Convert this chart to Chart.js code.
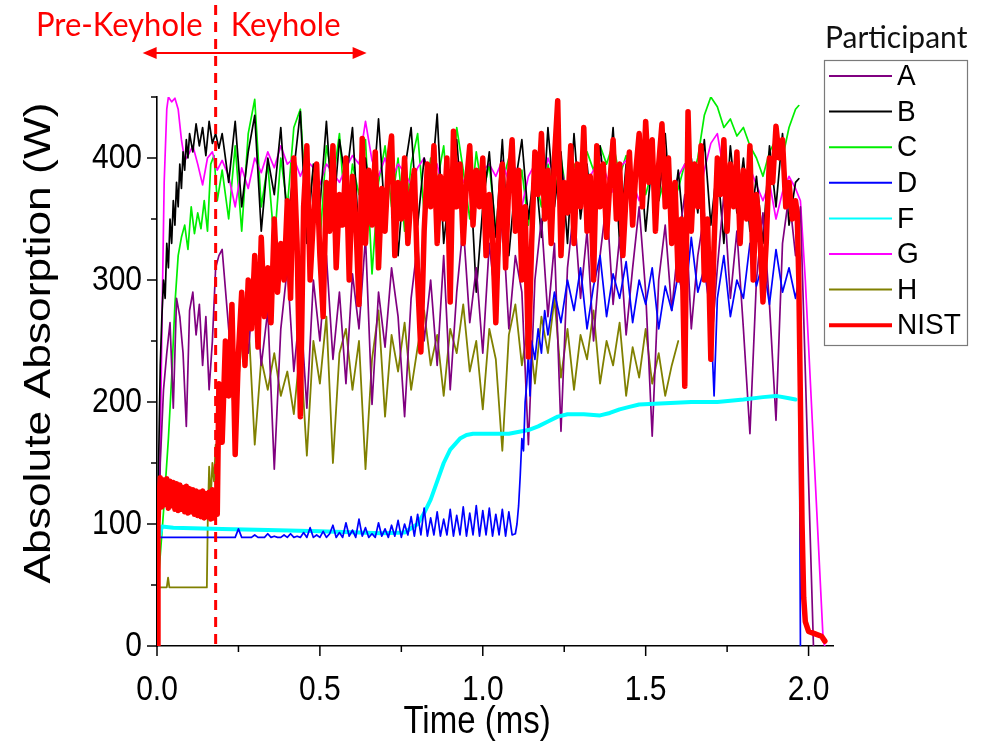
<!DOCTYPE html>
<html>
<head>
<meta charset="utf-8">
<script src="https://cdn.jsdelivr.net/npm/chart.js@4.4.1/dist/chart.umd.min.js"></script>
<style>
  html, body { margin: 0; padding: 0; background: #fff; }
  canvas { display: block; }
</style>
</head>
<body>
<canvas id="myChart" width="994" height="751"></canvas>
<script>
// ---- data (time in ms, absorption in W) ----
const tGrid = [0.2,0.22,0.24,0.26,0.28,0.3,0.32,0.34,0.36,0.38,0.4,0.42,0.44,0.46,0.48,0.5,0.52,0.54,0.56,0.58,
  0.6,0.62,0.64,0.66,0.68,0.7,0.72,0.74,0.76,0.78,0.8,0.82,0.84,0.86,0.88,0.9,0.92,0.94,0.96,0.98,
  1,1.02,1.04,1.06,1.08,1.1,1.12,1.14,1.16,1.18,1.2,1.22,1.24,1.26,1.28,1.3,1.32,1.34,1.36,1.38,
  1.4,1.42,1.44,1.46,1.48,1.5,1.52,1.54,1.56,1.58,1.6,1.62,1.64,1.66,1.68,1.7,1.72,1.74,1.76,1.78,
  1.8,1.82,1.84,1.86,1.88,1.9,1.92,1.94,1.96];

const tFine = [0.19,0.2,0.21,0.22,0.23,0.24,0.25,0.26,0.27,0.28,0.29,0.3,0.31,0.32,0.33,0.34,0.35,0.36,0.37,0.38,
  0.39,0.4,0.41,0.42,0.43,0.44,0.45,0.46,0.47,0.48,0.49,0.5,0.51,0.52,0.53,0.54,0.55,0.56,0.57,0.58,
  0.59,0.6,0.61,0.62,0.63,0.64,0.65,0.66,0.67,0.68,0.69,0.7,0.71,0.72,0.73,0.74,0.75,0.76,0.77,0.78,
  0.79,0.8,0.81,0.82,0.83,0.84,0.85,0.86,0.87,0.88,0.89,0.9,0.91,0.92,0.93,0.94,0.95,0.96,0.97,0.98,
  0.99,1,1.01,1.02,1.03,1.04,1.05,1.06,1.07,1.08,1.09,1.1,1.11,1.12,1.13,1.14,1.15,1.16,1.17,1.18,
  1.19,1.2,1.21,1.22,1.23,1.24,1.25,1.26,1.27,1.28,1.29,1.3,1.31,1.32,1.33,1.34,1.35,1.36,1.37,1.38,
  1.39,1.4,1.41,1.42,1.43,1.44,1.45,1.46,1.47,1.48,1.49,1.5,1.51,1.52,1.53,1.54,1.55,1.56,1.57,1.58,
  1.59,1.6,1.61,1.62,1.63,1.64,1.65,1.66,1.67,1.68,1.69,1.7,1.71,1.72,1.73,1.74,1.75,1.76,1.77,1.78,
  1.79,1.8,1.81,1.82,1.83,1.84,1.85,1.86,1.87,1.88,1.89,1.9,1.91,1.92,1.93,1.94,1.95,1.96];

// A
const aHeadT = [0,0.005,0.01,0.02,0.03,0.04,0.05,0.06,0.07,0.08,0.09,0.1,0.11,0.12,0.13,0.14,0.15,0.16,0.17,0.18,0.19];
const aHeadW = [0,80,150,210,240,265,195,285,270,240,180,275,290,255,280,230,270,210,250,310,320];
const aGridW = [325,260,215,290,240,305,230,275,145,260, 310,225,280,195,300,250,320,235,290,215,
  305,260,335,198,290,245,310,270,188,285, 330,250,300,230,320,210,290,345,265,310,
  240,330,280,355,260,320,290,165,300,350, 270,330,176,310,360,285,340,250,320,365,
  280,335,255,310,360,290,172,300,345,275, 330,370,260,320,355,240,310,370,285,340,
  260,174,300,355,280,185,330,370,320];
const aTailT = [1.975,2.015];
const aTailW = [360,0];

// B
const bHeadT = [0,0.005,0.01,0.015,0.02,0.025,0.03,0.035,0.04,0.045,0.05,0.055,0.06,0.065,0.07,0.075,0.08,0.085,0.09,0.095,0.1,0.11,0.12,0.13,0.14,0.15,0.16,0.17,0.18,0.19];
const bHeadW = [0,150,230,270,300,285,330,310,350,330,365,345,380,360,395,375,405,390,415,400,420,405,428,410,425,402,430,412,420,408];
const bGridW = [420,380,430,360,405,435,340,400,370,425, 345,390,438,330,395,360,430,350,415,380,
  425,335,400,360,432,350,410,320,390,425, 345,400,370,436,330,380,415,345,395,290,
  360,405,335,415,320,380,415,350,395,335, 425,360,405,330,420,350,395,340,410,360,
  425,330,395,350,415,340,400,365,420,345, 390,330,400,355,415,345,395,330,410,355,
  400,340,385,330,410,360,420,345,380];
const bTailT = [1.97];
const bTailW = [383];

// C
const cHeadT = [0,0.006,0.02,0.035,0.045,0.055,0.065,0.075,0.085,0.095,0.105,0.115,0.125,0.135,0.145,0.155,0.165,0.175,0.185];
const cHeadW = [0,60,110,170,220,280,320,335,345,325,360,338,355,342,365,340,395,402,365];
const cGridW = [390,350,410,340,420,448,360,395,330,400, 360,425,440,350,390,330,410,380,420,345,
  395,370,415,305,380,410,360,400,340,395, 420,355,400,380,410,345,425,390,350,405,
  370,395,340,380,400,355,390,345,385,360, 395,370,400,365,395,380,405,390,410,395,
  412,385,402,375,395,370,390,365,385,360, 375,395,380,400,435,450,442,425,432,418,
  425,410,400,385,405,415,400,425,440];
const cTailT = [1.97];
const cTailW = [443];

// D
const dHeadT = [0,0.004];
const dHeadW = [0,89];
const dLowW = [89,89,89,89,89,89,96,89,89,89, 89,91,89,89,89,92,89,90,89,89,
  91,89,92,89,90,89,93,89,97,89, 91,89,94,89,92,99,89,93,89,101,
  90,95,89,104,90,97,89,92,89,101, 90,96,89,99,90,103,89,100,91,106,
  90,108,91,113,90,105,91,110,90,104, 91,112,90,107,91,114,90,109,91,115,
  90,111,91,113,90,108,91,112,90,110, 91,92];
const dHighT = [1.105,1.11,1.115,1.12,1.125,1.13,1.135,1.14,1.145,1.15,1.16,1.17,1.18,1.19,1.2,
  1.22,1.24,1.26,1.28,1.3,1.32,1.34,1.36,1.38,1.4,1.42,1.44,1.46,1.48,1.5,1.52,1.54,1.56,1.58,1.6,
  1.62,1.64,1.66,1.68,1.7,1.71,1.72,1.74,1.76,1.78,1.8,1.82,1.84,1.86,1.88,1.9,1.92,1.94,1.96,1.97,1.975];
const dHighW = [100,115,140,170,160,200,215,240,205,250,235,260,240,275,255,
  290,265,300,275,310,260,295,320,270,305,285,315,265,300,280,310,260,295,275,305,
  280,335,290,310,270,205,285,320,270,300,285,330,295,315,280,325,290,310,285,300,0];

// F
const fT = [0.008,0.015,0.05,0.2,0.34,0.5,0.69,0.76,0.8,0.82,0.84,0.86,0.88,0.9,0.93,0.95,0.97,1.02,1.08,1.14,1.17,1.2,
  1.23,1.26,1.31,1.36,1.39,1.42,1.45,1.48,1.56,1.64,1.72,1.8,1.86,1.9,1.94,1.96];
const fW = [90,98,97,96,95,94,92.5,93,100,109,120,135,150,161,170,173,174,174,174,177,180,184,
  188,190,190,189,191,194,196,198,199,200,200,202,204,205,203,202];

// G
const gHeadT = [0,0.008,0.015,0.022,0.03,0.035,0.045,0.055,0.065,0.075,0.085,0.095,0.11,0.125,0.14,0.155,0.17,0.185];
const gHeadW = [0,120,260,380,440,450,446,449,440,415,398,402,410,395,378,400,405,390];
const gGridW = [398,385,360,392,375,400,388,405,392,410, 395,400,385,398,392,378,395,388,380,392,
  402,395,430,398,385,400,382,395,388,378, 392,400,385,395,370,388,398,380,392,375,
  390,395,385,398,380,392,360,385,395,375, 400,385,392,370,388,395,380,390,400,385,
  372,392,398,380,365,388,395,378,390,372, 385,395,365,358,390,412,420,388,395,380,
  370,392,378,365,380,350,372,385,375];
const gTailT = [1.975,1.99,2.045,2.05];
const gTailW = [365,300,4,0];

// H (ends at 1.60 ms)
const hHeadT = [0,0.003,0.03,0.034,0.038,0.153,0.156,0.16,0.165,0.17,0.175,0.18,0.185,0.19];
const hHeadW = [0,48,48,56,48,48,106,147,120,150,135,165,150,185];
const hGridW = [195,230,185,250,270,165,235,210,240,205, 225,190,245,156,250,215,270,150,240,260,
  210,250,145,235,275,188,255,225,265,210, 245,275,230,255,205,260,240,280,225,250,
  194,260,235,160,255,280,230,265,215,270, 240,285,220,260,210,255,235,275,215,250,
  230,265,205,245,220,260,215,240,205,230, 250];

// NIST
const nistHeadT = [0,0.003,0.005,0.01,0.015,0.02,0.025,0.03,0.035,0.04,0.045,0.05,0.055,0.06,0.065,0.07,0.075,0.08,0.085,0.09,
  0.095,0.1,0.105,0.11,0.115,0.12,0.125,0.13,0.135,0.14,0.145,0.15,0.155,0.16,0.165,0.17,0.175,0.18,0.185];
const nistHeadW = [0,100,115,138,114,136,116,137,113,135,115,134,112,133,111,132,112,130,110,131,
  109,129,110,128,108,127,107,126,106,127,105,125,106,126,104,128,105,126,108];
const nistFineW = [215,167,250,205,280,157,240,290,230,300, 260,320,245,335,270,310,265,350,290,330,
  300,365,285,400,330,188,360,410,300,350, 395,320,270,380,340,410,310,370,345,400,
  300,385,350,280,416,330,390,345,405,310, 375,340,395,418,320,380,350,400,330,370,
  390,300,241,340,395,360,410,330,385,350, 400,282,422,360,395,330,380,410,345,390,
  360,400,320,370,335,265,350,395,310,380, 415,340,390,300,360,237,330,405,370,420,
  350,390,330,400,447,320,380,355,410,330, 395,360,425,340,385,300,410,360,395,335,
  380,415,350,395,320,370,405,345,390,420, 360,430,380,415,340,395,428,360,400,330,
  380,300,350,213,438,340,395,360,410,300, 350,235,330,400,370,415,340,395,360,405,
  330,390,350,410,300,370,340,282,330,400, 380,426,400,415,360,380,350,365];
const nistTailT = [1.965,1.97,1.975,1.98,1.985,1.99,2,2.02,2.04,2.05];
const nistTailW = [355,300,200,100,40,20,12,10,8,4];

const names = ['A', 'B', 'C', 'D', 'F', 'G', 'H', 'NIST'];
const colors = ['#800080', '#000000', '#00ee00', '#0000ff', '#00ffff', '#ff00ff', '#808000', '#ff0000'];
const widths = [1.7, 1.7, 1.7, 1.7, 4, 1.7, 1.8, 5.5];

const xMajor = [0, 0.5, 1, 1.5, 2];
const xLabels = ['0.0', '0.5', '1.0', '1.5', '2.0'];
const xMinor = [0.25, 0.75, 1.25, 1.75];
const yMajor = [0, 100, 200, 300, 400];
const yMinor = [50, 150, 250, 350, 450];
const keyholeT = 0.18;

// ---- build points ----
const pts = (ts, ws) => ts.map((t, i) => ({ x: t, y: ws[i] }));
const series = [
  [...pts(aHeadT, aHeadW), ...pts(tGrid, aGridW), ...pts(aTailT, aTailW)],
  [...pts(bHeadT, bHeadW), ...pts(tGrid, bGridW), ...pts(bTailT, bTailW)],
  [...pts(cHeadT, cHeadW), ...pts(tGrid, cGridW), ...pts(cTailT, cTailW)],
  [...pts(dHeadT, dHeadW), ...pts(tFine.slice(0, dLowW.length), dLowW), ...pts(dHighT, dHighW)],
  pts(fT, fW),
  [...pts(gHeadT, gHeadW), ...pts(tGrid, gGridW), ...pts(gTailT, gTailW)],
  [...pts(hHeadT, hHeadW), ...pts(tGrid.slice(0, hGridW.length), hGridW)],
  [...pts(nistHeadT, nistHeadW), ...pts(tFine, nistFineW), ...pts(nistTailT, nistTailW)],
];
// drawing order: lower order = on top
const drawOrder = [3, 5, 7, 1, 2, 6, 4, 0];

const datasets = series.map((d, i) => ({
  label: names[i],
  data: d,
  borderColor: colors[i],
  borderWidth: widths[i],
  pointRadius: 0,
  tension: 0,
  fill: false,
  borderJoinStyle: 'round',
  borderCapStyle: 'round',
  order: drawOrder[i],
}));

const tickFont = '30px "Liberation Sans", Arial, sans-serif';

function stretchText(ctx, text, x, y, font, color, align, sx, sy, rot) {
  ctx.save();
  ctx.translate(x, y);
  if (rot) ctx.rotate(rot);
  ctx.scale(sx, sy);
  ctx.font = font;
  ctx.fillStyle = color;
  ctx.textAlign = align;
  ctx.textBaseline = 'middle';
  ctx.fillText(text, 0, 0);
  ctx.restore();
}

const overlay = {
  id: 'overlay',
  afterDraw(chart) {
    const ctx = chart.ctx;
    const x = chart.scales.x;
    const y = chart.scales.y;
    const ca = chart.chartArea;
    ctx.save();

    // tick marks
    ctx.strokeStyle = '#000';
    ctx.lineWidth = 1.5;
    const seg = (x1, y1, x2, y2) => {
      ctx.beginPath(); ctx.moveTo(x1, y1); ctx.lineTo(x2, y2); ctx.stroke();
    };
    xMajor.forEach(v => { const p = x.getPixelForValue(v); seg(p, ca.bottom, p, ca.bottom + 10); });
    xMinor.forEach(v => { const p = x.getPixelForValue(v); seg(p, ca.bottom, p, ca.bottom + 6); });
    yMajor.forEach(v => { const p = y.getPixelForValue(v); seg(ca.left - 10, p, ca.left, p); });
    yMinor.forEach(v => { const p = y.getPixelForValue(v); seg(ca.left - 6, p, ca.left, p); });

    // tick labels
    xMajor.forEach((v, i) => {
      stretchText(ctx, xLabels[i], x.getPixelForValue(v), ca.bottom + 44, tickFont, '#000', 'center', 1, 1.18);
    });
    yMajor.forEach(v => {
      stretchText(ctx, String(v), ca.left - 15, y.getPixelForValue(v), tickFont, '#000', 'right', 1, 1.18);
    });

    // axis titles
    stretchText(ctx, 'Time (ms)', 477, 722, '33px "Liberation Sans", Arial, sans-serif', '#000', 'center', 1, 1.18);
    stretchText(ctx, 'Absolute Absorption (W)', 40, 343, '37px "Liberation Sans", Arial, sans-serif', '#000', 'center', 1.2, 1, -Math.PI / 2);

    // keyhole marker
    const kx = x.getPixelForValue(keyholeT);
    ctx.strokeStyle = '#ff0000';
    ctx.lineWidth = 3;
    ctx.setLineDash([10, 7]);
    seg(kx, 5, kx, ca.bottom);
    ctx.setLineDash([]);
    ctx.lineWidth = 2;
    const ay = 53, axL = kx - 73, axR = kx + 151;
    seg(axL + 8, ay, axR - 8, ay);
    ctx.fillStyle = '#ff0000';
    ctx.beginPath(); ctx.moveTo(axL, ay); ctx.lineTo(axL + 14, ay - 6); ctx.lineTo(axL + 14, ay + 6); ctx.closePath(); ctx.fill();
    ctx.beginPath(); ctx.moveTo(axR, ay); ctx.lineTo(axR - 14, ay - 6); ctx.lineTo(axR - 14, ay + 6); ctx.closePath(); ctx.fill();
    stretchText(ctx, 'Pre-Keyhole', kx - 13, 25, '31px Lato, "Open Sans", sans-serif', '#ff0000', 'right', 1, 1.05);
    stretchText(ctx, 'Keyhole', kx + 15, 25, '31px Lato, "Open Sans", sans-serif', '#ff0000', 'left', 1, 1.05);

    // legend
    stretchText(ctx, 'Participant', 825, 38, '30px Lato, "Open Sans", sans-serif', '#111', 'left', 1, 1.05);
    ctx.strokeStyle = '#7a7a7a';
    ctx.lineWidth = 1.2;
    ctx.strokeRect(824.5, 60.5, 143, 285);
    names.forEach((n, i) => {
      const ly = 76 + i * 35.6;
      ctx.strokeStyle = colors[i];
      ctx.lineWidth = i === 7 ? 4 : 2;
      seg(829, ly, 892, ly);
      stretchText(ctx, n, 897, ly + 1, '28px "Liberation Sans", Arial, sans-serif', '#000', 'left', 1, 1.05);
    });
    ctx.restore();
  }
};

const myChart = new Chart('myChart', {
  type: 'line',
  data: { datasets: datasets },
  options: {
    responsive: false,
    animation: false,
    devicePixelRatio: 1,
    layout: { padding: { left: 0, right: 161, top: 97, bottom: 0 } },
    plugins: { legend: { display: false }, tooltip: { enabled: false } },
    scales: {
      x: {
        type: 'linear',
        min: 0,
        max: 2.075,
        ticks: { display: false },
        grid: { display: false },
        border: { display: true, color: '#000', width: 1.6 },
        afterFit: s => { s.height = 105; },
      },
      y: {
        type: 'linear',
        min: 0,
        max: 450,
        ticks: { display: false },
        grid: { display: false },
        border: { display: true, color: '#000', width: 1.6 },
        afterFit: s => { s.width = 157; },
      },
    },
  },
  plugins: [overlay],
});
</script>
</body>
</html>
